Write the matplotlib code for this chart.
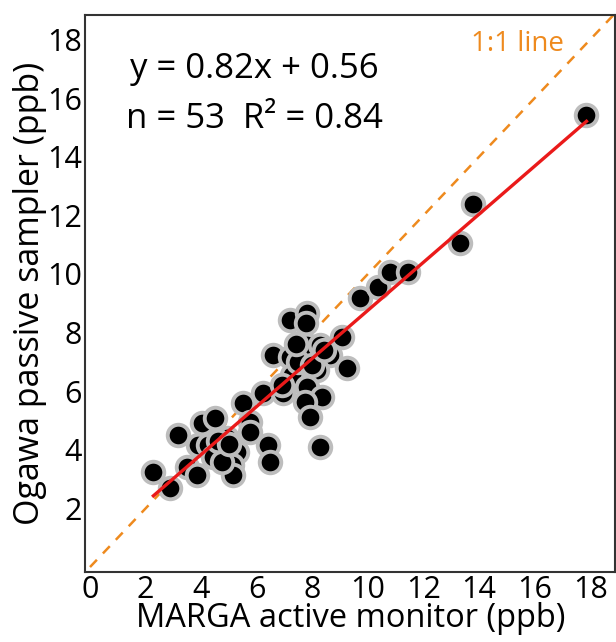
import matplotlib
matplotlib.use("Agg")
import matplotlib.pyplot as plt
import numpy as np

plt.rcParams['font.family'] = ['Open Sans', 'DejaVu Sans']

marga = [2.28, 2.88, 3.18, 4.02, 4.50, 3.48, 3.84, 3.90, 4.26, 4.44,
         4.92, 5.28, 5.10, 5.16, 4.74, 5.51, 5.76, 5.76, 6.41, 6.47,
         6.24, 6.95, 6.60, 7.19, 7.19, 7.79, 7.77, 7.79, 8.27, 9.05,
         8.63, 8.15, 9.23, 7.25, 7.79, 8.33, 7.73, 7.91, 8.27, 9.71,
         10.37, 10.79, 11.45, 13.31, 13.79, 17.86,
         4.60, 7.50, 8.00, 7.40, 5.00, 8.40, 6.90]
ogawa = [3.25, 2.69, 4.51, 4.90, 5.07, 3.42, 3.14, 4.16, 4.16, 3.76,
         4.39, 3.94, 3.48, 3.14, 3.59, 5.59, 4.96, 4.62, 4.16, 3.59,
         5.93, 5.93, 7.24, 7.18, 8.43, 8.66, 8.32, 7.58, 7.58, 7.86,
         7.24, 6.72, 6.78, 6.55, 6.15, 5.81, 5.64, 5.13, 4.11, 9.17,
         9.57, 10.08, 10.08, 11.05, 12.39, 15.43,
         4.30, 7.00, 6.90, 7.60, 4.20, 7.40, 6.20]

slope, intercept = 0.82, 0.56
xlim = (-0.18, 18.9)
ylim = (-0.17, 18.84)
ticks = [0, 2, 4, 6, 8, 10, 12, 14, 16, 18]
yticks = [2, 4, 6, 8, 10, 12, 14, 16, 18]

fig = plt.figure(figsize=(6.16, 6.42), dpi=100)
ax = fig.add_axes([0.138, 0.109, 0.861, 0.868])

ax.plot([0, 19], [0, 19], linestyle=(0, (4, 3.5)), color='#ee8a1e', lw=1.8, zorder=1)
ax.plot(marga, ogawa, 'o', ms=15.5, mfc='black', mec='#bdbdbd', mew=2.8, zorder=2, linestyle='none')
xf = np.array([min(marga), max(marga)])
ax.plot(xf, slope * xf + intercept, color='#ea1a1a', lw=2.4, zorder=3)

ax.set_xlim(*xlim)
ax.set_ylim(*ylim)
ax.set_xticks(ticks)
ax.set_yticks(yticks)
ax.tick_params(length=0, labelsize=22, pad=2)
for s in ax.spines.values():
    s.set_color('#333333')
    s.set_linewidth(1.5)

ax.set_xlabel('MARGA active monitor (ppb)', fontsize=23.5, labelpad=-2)
ax.set_ylabel('Ogawa passive sampler (ppb)', fontsize=24.5, labelpad=0)

ax.text(0.32, 0.903, 'y = 0.82x + 0.56', transform=ax.transAxes, fontsize=25,
        ha='center', va='center')
ax.text(0.32, 0.813, 'n = 53  R² = 0.84', transform=ax.transAxes, fontsize=25,
        ha='center', va='center')
ax.text(0.815, 0.948, '1:1 line', transform=ax.transAxes, fontsize=20,
        ha='center', va='center', color='#ee8a1e')

fig.savefig('out.png', dpi=100)
